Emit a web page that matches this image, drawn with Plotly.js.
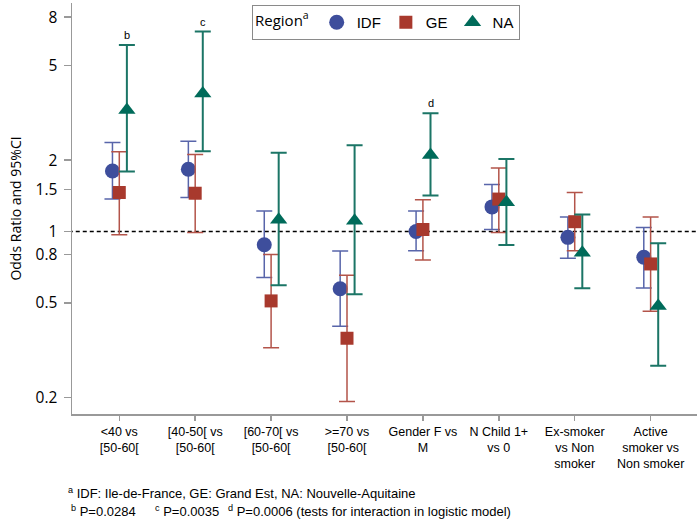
<!DOCTYPE html>
<html>
<head>
<meta charset="utf-8">
<script src="https://cdn.plot.ly/plotly-3.0.1.min.js"></script>
<style>html,body{margin:0;padding:0;background:#fff;}#chart{width:700px;height:527px;}</style>
</head>
<body>
<div id="chart"></div>
<script>
// ---- data ----
const categories = ["&lt;40 vs<br>[50-60[", "[40-50[ vs<br>[50-60[", "[60-70[ vs<br>[50-60[", "&gt;=70 vs<br>[50-60[",
  "Gender F vs<br>M", "N Child 1+<br>vs 0", "Ex-smoker<br>vs Non<br>smoker", "Active<br>smoker vs<br>Non smoker"];
const regions = ["IDF", "GE", "NA"];
const idfOR = [1.80, 1.83, 0.88, 0.574, 1.00, 1.27, 0.945, 0.779];
const idfLo = [1.37, 1.39, 0.64, 0.399, 0.83, 1.02, 0.771, 0.578];
const idfHi = [2.37, 2.40, 1.22, 0.828, 1.22, 1.58, 1.15, 1.04];
const geOR  = [1.46, 1.45, 0.51, 0.355, 1.02, 1.37, 1.10, 0.73];
const geLo  = [0.97, 0.99, 0.324, 0.192, 0.759, 0.99, 0.83, 0.461];
const geHi  = [2.17, 2.11, 0.80, 0.654, 1.36, 1.85, 1.46, 1.15];
const naOR  = [3.25, 3.82, 1.12, 1.11, 2.10, 1.33, 0.814, 0.486];
const naLo  = [1.79, 2.18, 0.594, 0.544, 1.42, 0.877, 0.577, 0.272];
const naHi  = [6.11, 6.96, 2.15, 2.31, 3.15, 2.02, 1.18, 0.892];
const yTicks = [0.2, 0.5, 0.8, 1, 1.5, 2, 5, 8];
const noteCats = [0, 1, 4];
const noteLetters = ["b", "c", "d"];
const refValue = 1;
const footA = ["a", "IDF: Ile-de-France, GE: Grand Est, NA: Nouvelle-Aquitaine"];
const footB = [["b", "P=0.0284"], ["c", "P=0.0035"], ["d", "P=0.0006 (tests for interaction in logistic model)"]];

// ---- styles ----
const offsets = [-0.09, 0, 0.1];
const markerColors = ["#3E4E9C", "#A8392D", "#006B5A"];
const barColors = ["#5865AA", "#B3544A", "#1B7566"];
const symbols = ["circle", "square", "triangle-up"];
const sizes = [15, 13, 15];
const barThick = [1.5, 1.5, 2];

const ors = [idfOR, geOR, naOR], los = [idfLo, geLo, naLo], his = [idfHi, geHi, naHi];
const idx = categories.map((_, i) => i);

const traces = [];
traces.push({
  x: [-5, 20], y: [refValue, refValue], mode: "lines", showlegend: false, hoverinfo: "skip",
  line: {color: "#000", width: 1.5, dash: "4px,3px"}
});
regions.forEach((r, k) => {
  traces.push({
    name: r, type: "scatter", mode: "markers",
    x: idx.map(i => i + offsets[k]),
    y: ors[k],
    marker: {symbol: symbols[k], size: sizes[k], color: markerColors[k], line: {width: 0}},
    error_y: {
      type: "data", symmetric: false,
      array: ors[k].map((v, i) => his[k][i] - v),
      arrayminus: ors[k].map((v, i) => v - los[k][i]),
      color: barColors[k], thickness: barThick[k], width: 8
    }
  });
});

const L = 72, R = 3, T = 3, B = 113, W = 700, H = 527;
const pw = W - L - R, ph = H - T - B;
const px2x = p => (p - L) / pw;
const py2y = p => (H - B - p) / ph;
const footFont = {family: "Liberation Sans, Arial, sans-serif", size: 13, color: "#000"};

const annotations = [];
noteCats.forEach((c, j) => {
  annotations.push({
    xref: "x", yref: "y", x: c + offsets[2], y: Math.log10(naHi[c]),
    text: noteLetters[j], showarrow: false, yanchor: "bottom", yshift: 2,
    font: {family: "Liberation Sans, Arial, sans-serif", size: 11, color: "#000"}
  });
});
annotations.push({
  xref: "paper", yref: "paper", x: px2x(66), y: py2y(493), xanchor: "left", yanchor: "middle",
  showarrow: false, text: "<sup>" + footA[0] + "</sup> " + footA[1], font: footFont
});
const footX = [69, 153, 226];
footB.forEach((f, j) => {
  annotations.push({
    xref: "paper", yref: "paper", x: px2x(footX[j]), y: py2y(511), xanchor: "left", yanchor: "middle",
    showarrow: false, text: "<sup>" + f[0] + "</sup> " + f[1], font: footFont
  });
});

const layout = {
  width: W, height: H,
  margin: {l: L, r: R, t: T, b: B},
  paper_bgcolor: "#fff", plot_bgcolor: "#fff",
  showlegend: true,
  legend: {
    orientation: "h", x: px2x(252), y: py2y(5), xanchor: "left", yanchor: "top",
    bordercolor: "#8a8a8a", borderwidth: 1, bgcolor: "#fff",
    font: {family: "Liberation Sans, Arial, sans-serif", size: 15, color: "#000"},
    title: {text: "Region<sup>a</sup>", side: "left", font: {family: "Open Sans, sans-serif", size: 15, color: "#000"}}
  },
  xaxis: {
    range: [-0.623, 7.611], tickmode: "array", tickvals: idx, ticktext: categories,
    showgrid: false, zeroline: false, showline: true, linecolor: "#999", linewidth: 1.5,
    ticks: "outside", ticklen: 5, tickcolor: "#999", tickwidth: 1.5,
    tickfont: {family: "Liberation Sans, Arial, sans-serif", size: 12.5, color: "#000"}
  },
  yaxis: {
    type: "log", range: [-0.769, 0.963], tickmode: "array", tickvals: yTicks, ticktext: yTicks.map(String),
    showgrid: false, zeroline: false, showline: true, linecolor: "#999", linewidth: 1.5,
    ticks: "outside", ticklen: 7, tickcolor: "#999", tickwidth: 1.5, ticklabelstandoff: 3,
    tickfont: {family: "Open Sans, sans-serif", size: 15.5, color: "#000"},
    title: {text: "Odds Ratio and 95%CI", standoff: 10, font: {family: "Open Sans, sans-serif", size: 14, color: "#000"}}
  },
  annotations: annotations
};

Plotly.newPlot("chart", traces, layout, {displayModeBar: false, staticPlot: true});
</script>
</body>
</html>
